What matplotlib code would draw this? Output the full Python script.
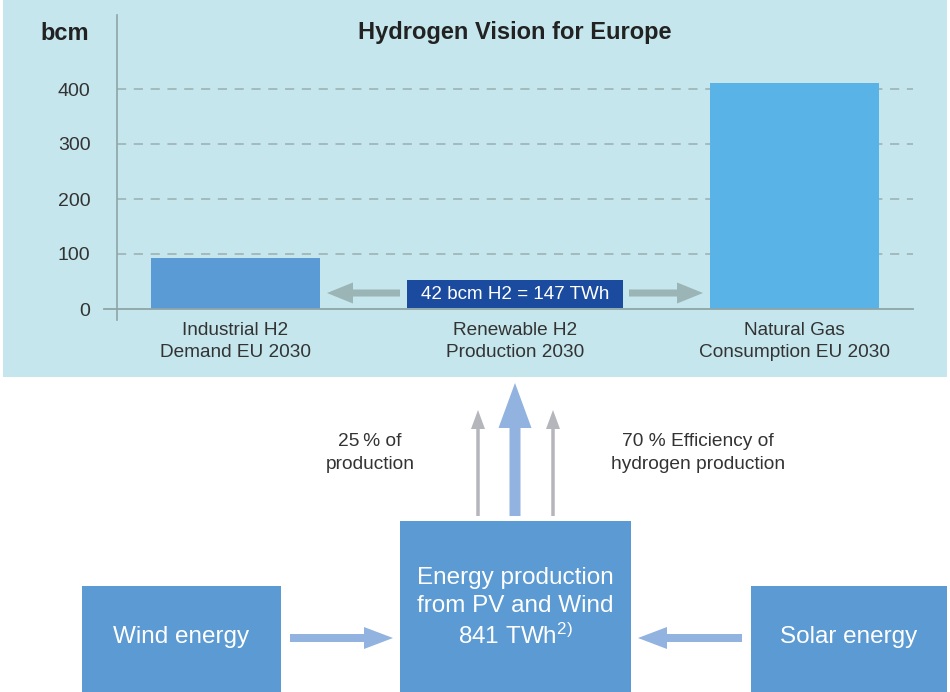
import matplotlib
matplotlib.use('Agg')
import matplotlib.pyplot as plt
from matplotlib.patches import Rectangle, FancyArrow

plt.rcParams['font.family'] = ['Liberation Sans', 'DejaVu Sans']
plt.rcParams['mathtext.fontset'] = 'custom'
plt.rcParams['mathtext.rm'] = 'Liberation Sans'
plt.rcParams['mathtext.default'] = 'regular'

# ---------------- data ----------------
categories = ["Industrial H2\nDemand EU 2030",
              "Renewable H2\nProduction 2030",
              "Natural Gas\nConsumption EU 2030"]
values_bcm = [93, 42, 411]
bar_colors = ['#5B9BD5', None, '#5AB3E6']
yticks = [0, 100, 200, 300, 400]
renewable_twh = 147
production_twh = 841
share_pct = 25
efficiency_pct = 70
source_labels = ["Wind energy", "Solar energy"]

TXT = '#333333'
W, H = 950, 692
fig = plt.figure(figsize=(9.5, 6.92), dpi=100)


def fx(px):
    return px / W


def fy(py):
    return 1 - py / H


# background axes (pixel coordinates)
bg = fig.add_axes([0, 0, 1, 1], zorder=0)
bg.set_xlim(0, W)
bg.set_ylim(H, 0)
bg.axis('off')
bg.add_patch(Rectangle((3, 0), 944, 377, color='#C4E6EC', lw=0))
bg.text(89, 33, "bcm", ha='right', va='center', fontsize=17, fontweight='bold', color='#222222')
bg.text(515, 33, "Hydrogen Vision for Europe", ha='center', va='center',
        fontsize=17, fontweight='bold', color='#222222')

# ---------------- bar chart ----------------
left, right, base, top, bot = 117, 913, 309, 15, 320
px_per_unit = 0.55
spacing = 279.5
c0 = 235.5
ax = fig.add_axes([fx(left), fy(bot), (right - left) / W, (bot - top) / H], zorder=1)
ax.patch.set_alpha(0)
ax.set_ylim(-(bot - base) / px_per_unit, (base - top) / px_per_unit)
ax.set_xlim((left - c0) / spacing, (right - c0) / spacing)

for i, (v, c) in enumerate(zip(values_bcm, bar_colors)):
    if c is not None:
        ax.bar(i, v, width=0.605, color=c, zorder=3)

for t in yticks[1:]:
    ax.axhline(t, color='#9AAFB2', lw=1.1, dashes=(6, 5), zorder=1)
ax.plot([(104 - c0) / spacing, (right - c0) / spacing], [0, 0], color='#8FA5A8',
        lw=1.3, clip_on=False, zorder=4)

for s in ['top', 'right', 'bottom']:
    ax.spines[s].set_visible(False)
ax.spines['left'].set_color('#8FA5A8')
ax.spines['left'].set_linewidth(1.2)
ax.set_yticks(yticks)
ax.set_yticklabels([str(t) for t in yticks], fontsize=14, color=TXT)
ax.tick_params(axis='y', length=0, pad=19)
ax.set_xticks(range(len(categories)))
ax.set_xticklabels(categories, fontsize=13.7, color=TXT, linespacing=1.35)
ax.tick_params(axis='x', length=0, pad=1.5)

# ---------------- overlay (pixel coordinates) ----------------
ov = fig.add_axes([0, 0, 1, 1], zorder=2)
ov.set_xlim(0, W)
ov.set_ylim(H, 0)
ov.axis('off')
ov.patch.set_alpha(0)

# label box for renewable H2
ov.add_patch(Rectangle((407, 280), 216, 28, color='#1B4B9E', lw=0))
ov.text(515, 294.5, f"{values_bcm[1]} bcm H2 = {renewable_twh} TWh", ha='center', va='center',
        fontsize=13.6, color='white')
gray_h = '#9BB4B6'
ov.add_patch(FancyArrow(400, 293, -73, 0, width=7, head_width=21, head_length=26,
                        length_includes_head=True, color=gray_h, lw=0))
ov.add_patch(FancyArrow(629, 293, 74, 0, width=7, head_width=21, head_length=26,
                        length_includes_head=True, color=gray_h, lw=0))

# upward arrows
arrow_blue = '#92B2DF'
arrow_gray = '#B4B6BB'
ov.add_patch(FancyArrow(515, 516, 0, -133, width=11, head_width=33, head_length=45,
                        length_includes_head=True, color=arrow_blue, lw=0))
for x in (478, 553):
    ov.add_patch(FancyArrow(x, 516, 0, -106, width=3.5, head_width=14, head_length=19,
                            length_includes_head=True, color=arrow_gray, lw=0))

ov.text(370, 453, f"{share_pct}\u2009% of\nproduction", ha='center', va='center',
        fontsize=13.8, color=TXT, linespacing=1.4)
ov.text(698, 453, f"{efficiency_pct} % Efficiency of\nhydrogen production", ha='center',
        va='center', fontsize=13.8, color=TXT, linespacing=1.4)

# boxes
box_c = '#5B9AD2'
ov.add_patch(Rectangle((400, 521), 231, 172, color=box_c, lw=0))
ov.add_patch(Rectangle((82, 586), 199, 107, color=box_c, lw=0))
ov.add_patch(Rectangle((751, 586), 196, 107, color=box_c, lw=0))

ov.text(515, 608, f"Energy production\nfrom PV and Wind\n{production_twh} TWh$^{{2)}}$",
        ha='center', va='center', fontsize=17.5, color='white', linespacing=1.36)
ov.text(181, 637, source_labels[0], ha='center', va='center', fontsize=17.5, color='white')
ov.text(849, 637, source_labels[1], ha='center', va='center', fontsize=17.5, color='white')

ov.add_patch(FancyArrow(290, 638, 103, 0, width=8, head_width=22, head_length=29,
                        length_includes_head=True, color=arrow_blue, lw=0))
ov.add_patch(FancyArrow(742, 638, -104, 0, width=8, head_width=22, head_length=29,
                        length_includes_head=True, color=arrow_blue, lw=0))

fig.savefig('out.png', dpi=100)
